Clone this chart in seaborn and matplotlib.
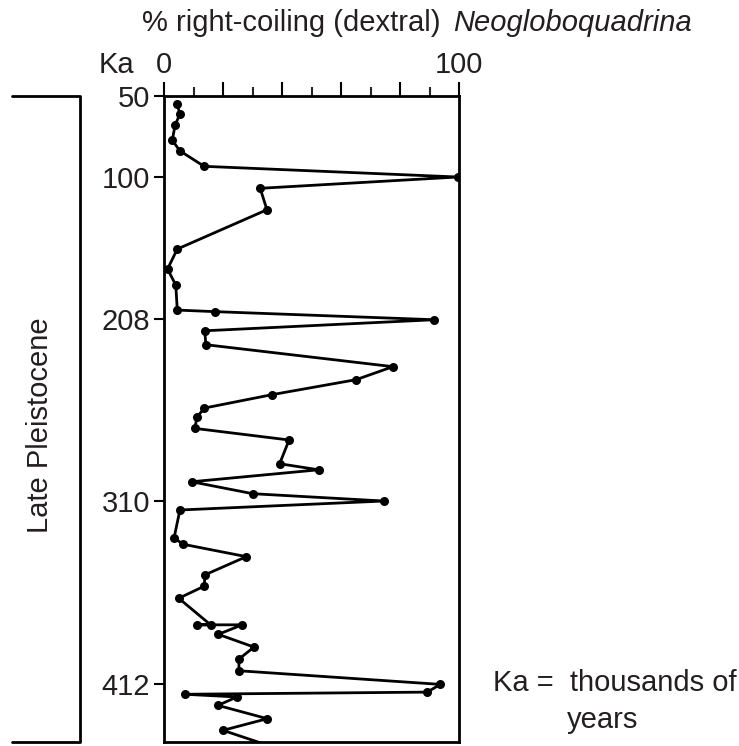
import numpy as np
import matplotlib
matplotlib.use("Agg")
import matplotlib.pyplot as plt
import seaborn as sns

# % dextral Neogloboquadrina vs age (Ka), read top to bottom down the core
pct = [4.5, 5.4, 3.8, 2.8, 5.4, 13.6, 99.5, 32.6, 34.9, 4.5, 1.2, 4.0, 4.5, 17.4,
       91.6, 13.8, 14.2, 77.6, 65.1, 36.6, 13.7, 11.1, 10.5, 42.4, 39.2, 52.4,
       9.4, 30.1, 74.5, 5.4, 3.4, 6.5, 27.9, 13.8, 13.7, 5.0, 15.8, 11.1, 26.5,
       18.4, 30.5, 25.4, 25.4, 93.7, 89.2, 7.0, 24.7, 18.3, 35.0, 20.0, 40.2]
ka = [55.1, 61.3, 67.7, 77.3, 83.9, 93.4, 100.0, 108.6, 124.9, 154.8, 170.0,
      182.2, 201.2, 202.4, 208.4, 214.6, 222.4, 234.7, 242.0, 250.4, 257.9,
      263.1, 269.3, 275.8, 289.1, 292.5, 299.2, 305.9, 310.0, 315.0, 330.6,
      334.1, 341.0, 351.2, 357.4, 364.2, 379.0, 379.0, 379.0, 384.3, 391.4,
      398.1, 404.6, 412.2, 416.5, 417.7, 419.2, 423.9, 431.3, 437.8, 448.9]

ka_ticks = [50, 100, 208, 310, 412]
ka_bottom = 444.3

# the age axis is not linear (core depth); anchor ages to relative depth
ka_anchor = [50, 100, 208, 310, 412, 520]
depth_anchor = [96, 177, 319, 501, 684, 877.8]


def fwd(v):
    return np.interp(v, ka_anchor, depth_anchor)


def inv(d):
    return np.interp(d, depth_anchor, ka_anchor)


sns.set_style("ticks")
plt.rcParams["font.family"] = ["Liberation Sans", "DejaVu Sans"]
fs = 21
txt = "#231f20"

fig = plt.figure(figsize=(7.39, 7.46), dpi=100)
ax = fig.add_axes([164 / 739, 4 / 746, 295 / 739, 646 / 746])

sns.lineplot(x=pct, y=ka, sort=False, estimator=None, orient="y", ax=ax,
             color="black", linewidth=2, marker="o", markersize=6.5,
             markeredgewidth=0, legend=False)

ax.set_yscale("function", functions=(fwd, inv))
ax.set_ylim(ka_bottom, 50)
ax.set_xlim(0, 100)

ax.set_yticks(ka_ticks)
ax.set_yticklabels([str(t) for t in ka_ticks])
ax.yaxis.set_minor_locator(matplotlib.ticker.NullLocator())

ax.xaxis.tick_top()
ax.set_xticks([0, 20, 40, 60, 80, 100])
ax.set_xticklabels(["0", "", "", "", "", "100"])
ax.set_xticks([10, 30, 50, 70, 90], minor=True)
ax.tick_params(axis="x", which="major", length=10, width=1.5, pad=2,
               labelsize=fs, colors="black", labelcolor=txt)
ax.tick_params(axis="x", which="minor", length=6.5, width=1.5, top=True,
               bottom=False)
ax.tick_params(axis="y", which="major", length=7, width=1.5, pad=3,
               labelsize=fs, colors="black", labelcolor=txt)
ax.set_xlabel("")
ax.set_ylabel("")
for s in ax.spines.values():
    s.set_visible(True)
    s.set_linewidth(2)
    s.set_color("black")

# bracket for the epoch
ax.plot([-0.515, -0.285, -0.285, -0.515], [1, 1, 0, 0], color="black",
        linewidth=2, transform=ax.transAxes, clip_on=False)
ax.text(-0.42, 0.49, "Late Pleistocene", rotation=90, ha="center",
        va="center", fontsize=fs, color=txt, transform=ax.transAxes)

ax.text(-0.16, 1.048, "Ka", ha="center", va="center", fontsize=fs,
        color=txt, transform=ax.transAxes)

fig.text(449 / 739, 1 - 23 / 746, "% right-coiling (dextral) ", ha="right",
         va="center", fontsize=fs, color=txt)
fig.text(453 / 739, 1 - 23 / 746, "Neogloboquadrina", ha="left",
         va="center", fontsize=fs, style="italic", color=txt)

fig.text(493 / 739, 1 - 683 / 746, "Ka =  thousands of", ha="left",
         va="center", fontsize=fs, color=txt)
fig.text(603 / 739, 1 - 720 / 746, "years", ha="center", va="center",
         fontsize=fs, color=txt)

fig.savefig("out.png", dpi=100)
